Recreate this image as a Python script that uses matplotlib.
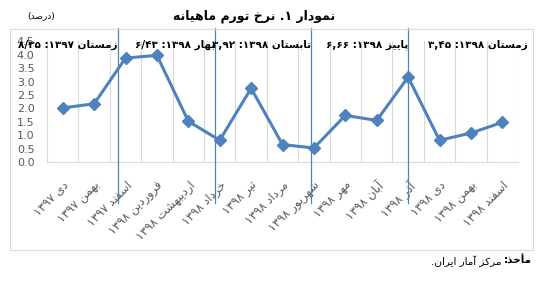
import matplotlib
matplotlib.use("Agg")
import matplotlib.pyplot as plt
import matplotlib.transforms as mtransforms
from matplotlib.patches import Rectangle
import numpy as np

# monthly inflation (%), Dey 1397 .. Esfand 1398
months = ["دی", "بهمن", "اسفند", "فروردین", "اردیبهشت", "خرداد", "تیر", "مرداد",
          "شهریور", "مهر", "آبان", "آذر", "دی", "بهمن", "اسفند"]
years = ["۱۳۹۷"] * 3 + ["۱۳۹۸"] * 12
inflation = [2.02, 2.17, 3.88, 3.98, 1.52, 0.81, 2.75, 0.65, 0.52, 1.74, 1.55, 3.17, 0.81, 1.08, 1.48]
season_labels = ["زمستان ۱۳۹۷: ۸/۳۵", "بهار ۱۳۹۸: ۶/۴۳", "تابستان ۱۳۹۸: ۳,۹۲",
                 "پاییز ۱۳۹۸: ۶,۶۶", "زمستان ۱۳۹۸: ۳,۴۵"]
y_ticks = [0.0, 0.5, 1.0, 1.5, 2.0, 2.5, 3.0, 3.5, 4.0, 4.5]

title = "نمودار ۱. نرخ تورم ماهیانه"
unit = "(درصد)"
source_bold = "مأخذ:"
source_rest = "مرکز آمار ایران."

# matplotlib has no arabic shaping / bidi, so do a small version by hand
DUAL = {
    "ب": "\uFE8F\uFE90\uFE91\uFE92", "ت": "\uFE95\uFE96\uFE97\uFE98",
    "خ": "\uFEA5\uFEA6\uFEA7\uFEA8", "س": "\uFEB1\uFEB2\uFEB3\uFEB4",
    "ش": "\uFEB5\uFEB6\uFEB7\uFEB8", "ص": "\uFEB9\uFEBA\uFEBB\uFEBC",
    "ف": "\uFED1\uFED2\uFED3\uFED4", "م": "\uFEE1\uFEE2\uFEE3\uFEE4",
    "ن": "\uFEE5\uFEE6\uFEE7\uFEE8", "ه": "\uFEE9\uFEEA\uFEEB\uFEEC",
    "ی": "\uFBFC\uFBFD\uFBFE\uFBFF", "پ": "\uFB56\uFB57\uFB58\uFB59",
    "ک": "\uFB8E\uFB8F\uFB90\uFB91",
}
RIGHT = {
    "ا": "\uFE8D\uFE8E", "آ": "\uFE81\uFE82", "أ": "\uFE83\uFE84",
    "د": "\uFEA9\uFEAA", "ذ": "\uFEAB\uFEAC", "ر": "\uFEAD\uFEAE",
    "ز": "\uFEAF\uFEB0", "و": "\uFEED\uFEEE",
}
DIGITS = set("۰۱۲۳۴۵۶۷۸۹0123456789")
MIRROR = {"(": ")", ")": "("}


def shape(text):
    out = []
    for i, ch in enumerate(text):
        if ch not in DUAL and ch not in RIGHT:
            out.append(ch)
            continue
        prev = text[i - 1] if i > 0 else ""
        nxt = text[i + 1] if i + 1 < len(text) else ""
        joins_prev = prev in DUAL
        joins_next = ch in DUAL and (nxt in DUAL or nxt in RIGHT)
        forms = DUAL.get(ch) or RIGHT[ch]
        if joins_prev and joins_next:
            out.append(forms[3])
        elif joins_prev:
            out.append(forms[1])
        elif joins_next:
            out.append(forms[2])
        else:
            out.append(forms[0])
    return "".join(out)


def fa(text):
    s = shape(text)
    runs, i = [], 0
    while i < len(s):
        if s[i] in DIGITS:
            j = i
            while j < len(s) and (s[j] in DIGITS or (s[j] in ",/." and j + 1 < len(s) and s[j + 1] in DIGITS)):
                j += 1
            runs.append(s[i:j])
            i = j
        else:
            runs.append(MIRROR.get(s[i], s[i]))
            i += 1
    return "".join(reversed(runs))


plt.rcParams["font.family"] = ["DejaVu Sans"]
blue = "#4f81bd"
grey_text = "#595959"
grid = "#d9d9d9"

fig = plt.figure(figsize=(5.43, 2.86), dpi=100)
ax = fig.add_axes([0.0866, 0.4336, 0.8674, 0.4216])

x = np.arange(len(inflation))
ax.plot(x, inflation, color=blue, lw=2.2, marker="D", markersize=6, zorder=3)
ax.set_xlim(-0.5, len(inflation) - 0.5)
ax.set_ylim(0, 4.5)
ax.set_yticks(y_ticks, [f"{v:.1f}" for v in y_ticks])
ax.set_xticks(x, [fa(f"{m} {y}") for m, y in zip(months, years)],
              rotation=45, ha="right", va="top", rotation_mode="anchor")
ax.set_xticks(np.arange(-0.5, len(inflation)), minor=True)
ax.grid(which="minor", axis="x", color=grid, lw=0.8)
ax.tick_params(which="both", length=0)
ax.tick_params(axis="y", labelsize=8, labelcolor=grey_text, pad=9)
ax.tick_params(axis="x", labelsize=8.5, labelcolor=grey_text, pad=12)
for side in ["left", "top", "right"]:
    ax.spines[side].set_visible(False)
ax.spines["bottom"].set_color(grid)

# outer frame
fig.patches.append(Rectangle((10 / 543, 1 - 250 / 286), 523 / 543, 221 / 286,
                             transform=fig.transFigure, fill=False, edgecolor=grid, lw=0.8))

# season separators and season totals
trans = mtransforms.blended_transform_factory(ax.transData, fig.transFigure)
separators = [1.75, 4.84, 7.92, 11.0]
for sx in separators:
    ax.plot([sx, sx], [1 - 28 / 286, 1 - 203 / 286], color=blue, lw=0.9,
            transform=trans, clip_on=False, zorder=4)
label_right = separators + [14.8]
for lx, lab in zip(label_right, season_labels):
    fig.text(lx, 1 - 45 / 286, fa(lab), transform=trans, ha="right", va="center",
             fontsize=7.5, fontweight="bold", color="black")

fig.text(254 / 543, 1 - 16 / 286, fa(title), ha="center", va="center",
         fontsize=9, fontweight="bold")
fig.text(41 / 543, 1 - 16 / 286, fa(unit), ha="center", va="center", fontsize=6.5)

bold = fig.text(532 / 543, 1 - 261 / 286, fa(source_bold), ha="right", va="center",
                fontsize=7.5, fontweight="bold")
ax.annotate(fa(source_rest), xy=(0, 0.5), xycoords=bold,
            xytext=(-2, 0), textcoords="offset points",
            ha="right", va="center", fontsize=7.5, annotation_clip=False)

fig.savefig("out.png", dpi=100)
